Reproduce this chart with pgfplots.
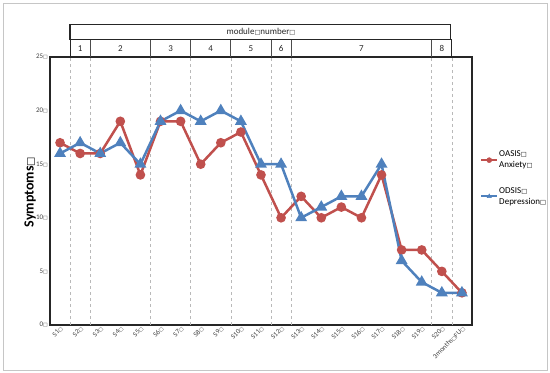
\documentclass[border=0pt]{standalone}
\usepackage{graphicx}
\usepackage{pgfplots}
\pgfplotsset{compat=1.18}
\usepackage{pgfplotstable}
\usepackage{fontspec}
\setmainfont{Carlito}
\newfontfamily\dv{DejaVu Sans}
\newcommand\bx{{\dv\scalebox{0.7}{□}}}
\definecolor{cred}{HTML}{C0504D}
\definecolor{cblue}{HTML}{4F81BD}
\pgfplotstableread{
idx oasis odsis
0 17 16
1 16 17
2 16 16
3 19 17
4 14 15
5 19 19
6 19 20
7 15 19
8 17 20
9 18 19
10 14 15
11 10 15
12 12 10
13 10 11
14 11 12
15 10 12
16 14 15
17 7 6
18 7 4
19 5 3
20 3 3
}\datatable
\begin{document}
\begin{tikzpicture}
\draw[gray!45, line width=0.8pt] (3pt,3pt) rectangle (547pt,370pt);
\path (0,0) rectangle (550pt,373pt);
\begin{axis}[
 at={(50pt,48pt)}, anchor=south west,
 scale only axis, width=422pt, height=268pt,
 xmin=-0.5, xmax=20.5, ymin=0, ymax=25,
 xtick={0,...,20},
 xticklabels={S1\bx,S2\bx,S3\bx,S4\bx,S5\bx,S6\bx,S7\bx,S8\bx,S9\bx,S10\bx,S11\bx,S12\bx,S13\bx,S14\bx,S15\bx,S16\bx,S17\bx,S18\bx,S19\bx,S20\bx,3months\bx{}FU\bx},
 ytick={0,5,10,15,20,25},
 yticklabels={0\bx,5\bx,10\bx,15\bx,20\bx,25\bx},
 major tick length=0pt,
 axis line style={line width=1.2pt, black!85},
 tick label style={font=\fontsize{7}{8}\selectfont, text=black!75},
 xticklabel style={rotate=45, anchor=north east, inner sep=0.5pt},
 yticklabel style={inner sep=2pt},
 ylabel={\textbf{Symptoms}\bx},
 ylabel style={at={(rel axis cs:-0.047,0.496)}, anchor=center, font=\fontsize{14}{16}\selectfont},
 clip=false,
 legend image code/.code={
   \draw[#1, line width=2pt, mark=none] (0pt,0pt) -- (16pt,0pt);
   \draw[#1, line width=0.5pt, mark size=2.5pt] plot coordinates {(8pt,0pt)};
 },
 legend style={at={(1.012,0.665)}, anchor=north west, draw=none, fill=none,
   font=\fontsize{9}{11}\selectfont, cells={anchor=west, align=left}, row sep=14pt,
   nodes={inner xsep=1pt}},
]
\pgfplotsinvokeforeach{0.5,1.5,4.5,6.5,8.5,10.5,11.5,18.5,19.5}{
  \draw[gray!55, dashed, line width=0.6pt] (axis cs:#1,0) -- (axis cs:#1,25);
}
\addplot[cred, line width=2.5pt, mark=*, mark size=3.5pt, mark options={solid}] table[x=idx, y=oasis] {\datatable};
\addlegendentry{OASIS\bx\\Anxiety\bx}
\addplot[cblue, line width=2.5pt, mark=triangle*, mark size=4.4pt, mark options={solid}] table[x=idx, y=odsis] {\datatable};
\addlegendentry{ODSIS\bx\\Depression\bx}
% header
\draw[black!85, line width=0.8pt] (axis cs:0.5,25) rectangle (axis cs:19.5,26.6);
\pgfplotsinvokeforeach{1.5,4.5,6.5,8.5,10.5,11.5,18.5}{
  \draw[black!70, line width=0.8pt] (axis cs:#1,25) -- (axis cs:#1,26.6);
}
\draw[black!85, line width=1.2pt] (axis cs:0.5,26.6) rectangle (axis cs:19.45,28.05);
\foreach \p/\t in {1/1,3/2,5.5/3,7.5/4,9.5/5,11/6,15/7,19/8}{
  \edef\tmp{\noexpand\node[font=\noexpand\fontsize{9}{10}\noexpand\selectfont, text=black!85] at (axis cs:\p,25.8) {\t};}
  \tmp
}
\node[font=\fontsize{9}{10}\selectfont, text=black!85] at (axis cs:10,27.33) {module\bx{}number\bx};
\end{axis}
\end{tikzpicture}
\end{document}
